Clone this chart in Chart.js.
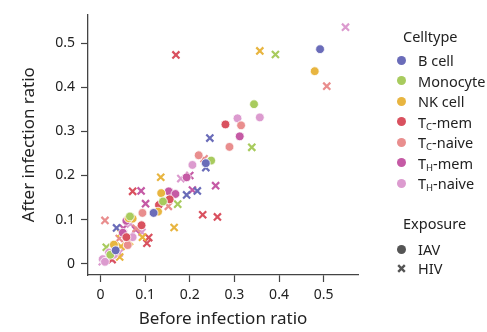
<!DOCTYPE html>
<html>
<head>
<meta charset="utf-8">
<script src="https://cdn.jsdelivr.net/npm/chart.js@4.4.1/dist/chart.umd.min.js"></script>
<style>
  body { margin: 0; background: #fff; font-family: "Noto Sans", sans-serif; color: #222; }
  #wrap { position: relative; width: 487px; height: 332px; }
  #legend { position: absolute; left: 0; top: 0; width: 487px; height: 332px; pointer-events: none; font-size: 14.5px; }
  .ttl { position: absolute; left: 403px; white-space: nowrap; line-height: 18px; }
  .item { position: absolute; left: 397px; white-space: nowrap; line-height: 18px; }
  .mark { position: absolute; left: 0; top: 4.5px; width: 9px; height: 9px; }
  .dot { border-radius: 50%; }
  .lbl { position: absolute; left: 21px; top: 0; }
  sub { font-size: 9.5px; vertical-align: -2px; line-height: 0; }
</style>
</head>
<body>
<div id="wrap">
  <canvas id="chart" width="487" height="332"></canvas>
  <div id="legend"></div>
</div>
<script>
// cell types and their colours
const cellTypes = ['B cell', 'Monocyte', 'NK cell', 'Tc-mem', 'Tc-naive', 'TH-mem', 'TH-naive'];
const cellLabels = ['B cell', 'Monocyte', 'NK cell', 'T<sub>C</sub>-mem', 'T<sub>C</sub>-naive', 'T<sub>H</sub>-mem', 'T<sub>H</sub>-naive'];
const cellColors = ['#6a6cb9', '#a8cb5e', '#e8b540', '#d9515f', '#e98e8e', '#c55aa5', '#dc9bcf'];
const exposures = ['IAV', 'HIV'];

// [before, after] ratios
const bCellIAV = [[0.492, 0.487], [0.236, 0.228], [0.119, 0.115], [0.034, 0.030]];
const bCellHIV = [[0.245, 0.285], [0.217, 0.165], [0.193, 0.156], [0.036, 0.081], [0.236, 0.218]];
const monoIAV = [[0.344, 0.362], [0.248, 0.234], [0.140, 0.141], [0.066, 0.107], [0.022, 0.020]];
const monoHIV = [[0.392, 0.475], [0.339, 0.264], [0.173, 0.135], [0.013, 0.037]];
const nkIAV = [[0.480, 0.437], [0.136, 0.160], [0.129, 0.118], [0.072, 0.102], [0.030, 0.043], [0.063, 0.103]];
const nkHIV = [[0.357, 0.483], [0.135, 0.196], [0.165, 0.082], [0.046, 0.069], [0.094, 0.060], [0.046, 0.039], [0.043, 0.015], [0.065, 0.050]];
const tcMemIAV = [[0.280, 0.316], [0.155, 0.146], [0.131, 0.133], [0.092, 0.087], [0.058, 0.060]];
const tcMemHIV = [[0.169, 0.474], [0.072, 0.164], [0.229, 0.111], [0.262, 0.106], [0.108, 0.059], [0.104, 0.046], [0.026, 0.009]];
const tcNaiveIAV = [[0.315, 0.314], [0.289, 0.265], [0.220, 0.246], [0.094, 0.115], [0.061, 0.042]];
const tcNaiveHIV = [[0.507, 0.403], [0.152, 0.130], [0.010, 0.098], [0.042, 0.057], [0.232, 0.238], [0.080, 0.080]];
const thMemIAV = [[0.312, 0.289], [0.193, 0.196], [0.153, 0.164], [0.168, 0.158], [0.058, 0.097], [0.050, 0.070]];
const thMemHIV = [[0.200, 0.200], [0.091, 0.165], [0.206, 0.167], [0.258, 0.177], [0.101, 0.136], [0.051, 0.080], [0.079, 0.077]];
const thNaiveIAV = [[0.307, 0.330], [0.357, 0.332], [0.206, 0.224], [0.072, 0.060], [0.019, 0.025], [0.005, 0.010], [0.010, 0.004], [0.030, 0.020]];
const thNaiveHIV = [[0.549, 0.537], [0.180, 0.193], [0.067, 0.090], [0.093, 0.071], [0.042, 0.024], [0.004, 0.004], [0.020, 0.012]];

const iavSets = [bCellIAV, monoIAV, nkIAV, tcMemIAV, tcNaiveIAV, thMemIAV, thNaiveIAV];
const hivSets = [bCellHIV, monoHIV, nkHIV, tcMemHIV, tcNaiveHIV, thMemHIV, thNaiveHIV];

// axis ticks
const xTicks = [0, 0.1, 0.2, 0.3, 0.4, 0.5];
const xTickLabels = ['0', '0.1', '0.2', '0.3', '0.4', '0.5'];
const yTicks = [0, 0.1, 0.2, 0.3, 0.4, 0.5];
const yTickLabels = ['0', '0.1', '0.2', '0.3', '0.4', '0.5'];

const toPts = arr => arr.map(p => ({ x: p[0], y: p[1] }));

let datasets = [];
cellTypes.forEach((c, i) => {
  datasets.push({
    label: c + ' IAV',
    data: toPts(iavSets[i]),
    pointStyle: 'circle',
    pointRadius: 4.4,
    backgroundColor: cellColors[i],
    borderColor: '#ffffff',
    borderWidth: 0.8
  });
});
cellTypes.forEach((c, i) => {
  datasets.push({
    label: c + ' HIV',
    data: toPts(hivSets[i]),
    pointStyle: 'crossRot',
    pointRadius: 5,
    backgroundColor: cellColors[i],
    borderColor: cellColors[i],
    borderWidth: 2.2
  });
});

const axisColor = '#444';
const tickFont = { family: '"Noto Sans", sans-serif', size: 14 };
const titleFont = { family: '"Noto Sans", sans-serif', size: 17 };

new Chart('chart', {
  type: 'scatter',
  data: { datasets: datasets },
  options: {
    responsive: false,
    animation: false,
    layout: { padding: { left: 0, right: 129, top: 7, bottom: 3 } },
    plugins: { legend: { display: false }, tooltip: { enabled: false } },
    scales: {
      x: {
        type: 'linear',
        min: -0.028,
        max: 0.577,
        afterBuildTicks: s => { s.ticks = xTicks.map(v => ({ value: v })); },
        afterFit: s => { s.height = 54; },
        ticks: { color: '#222', font: tickFont, padding: 5, callback: (v, i) => xTickLabels[i] },
        grid: { drawOnChartArea: false, tickLength: 7, tickColor: axisColor, tickWidth: 1.2 },
        border: { display: true, color: axisColor, width: 1.3 },
        title: { display: true, text: 'Before infection ratio', color: '#222', font: titleFont, padding: { top: 0, bottom: 0 } }
      },
      y: {
        type: 'linear',
        min: -0.026,
        max: 0.566,
        afterBuildTicks: s => { s.ticks = yTicks.map(v => ({ value: v })); },
        afterFit: s => { s.width = 88; },
        ticks: { color: '#222', font: tickFont, padding: 6, callback: (v, i) => yTickLabels[i] },
        grid: { drawOnChartArea: false, tickLength: 7, tickColor: axisColor, tickWidth: 1.2 },
        border: { display: true, color: axisColor, width: 1.3 },
        title: { display: true, text: 'After infection ratio', color: '#222', font: titleFont, padding: { top: 19, bottom: 0 } }
      }
    }
  }
});

// legend drawn as html so the subscripts stay real text
const legend = document.getElementById('legend');
let html = '<div class="ttl" style="top:27px">Celltype</div>';
cellLabels.forEach((lab, i) => {
  const top = 51 + i * 20.5;
  html += '<div class="item" style="top:' + top + 'px"><span class="mark dot" style="background:' + cellColors[i] + '"></span><span class="lbl">' + lab + '</span></div>';
});
html += '<div class="ttl" style="top:214px">Exposure</div>';
html += '<div class="item" style="top:240px"><span class="mark dot" style="background:#555"></span><span class="lbl">' + exposures[0] + '</span></div>';
html += '<div class="item" style="top:259px"><svg class="mark" viewBox="0 0 9 9"><path d="M1.2 1.2L7.8 7.8M7.8 1.2L1.2 7.8" stroke="#555" stroke-width="2.4"/></svg><span class="lbl">' + exposures[1] + '</span></div>';
legend.innerHTML = html;
</script>
</body>
</html>
